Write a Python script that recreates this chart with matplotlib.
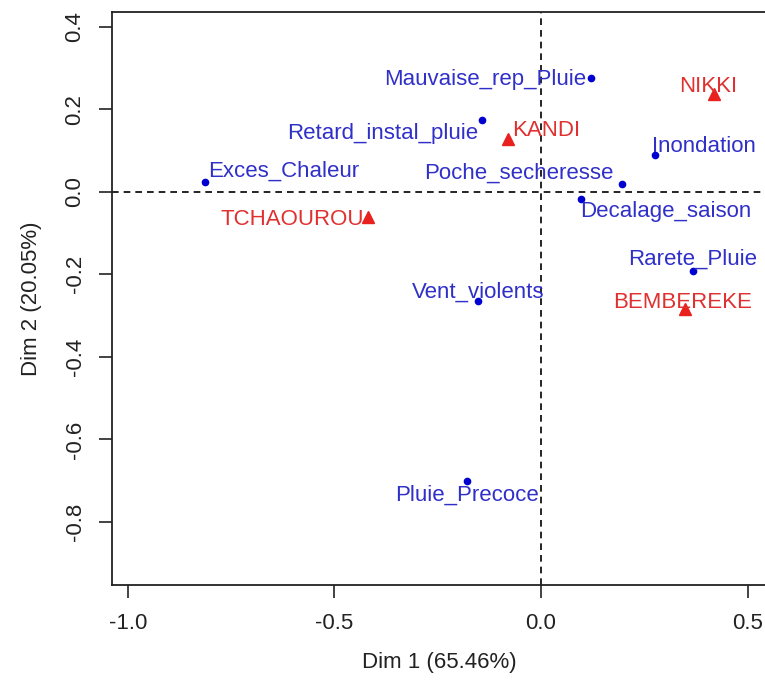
import matplotlib
matplotlib.use('Agg')
import matplotlib.pyplot as plt

# column points (blue) and row points (red)
col_names = ['Mauvaise_rep_Pluie', 'Retard_instal_pluie', 'Inondation', 'Exces_Chaleur',
             'Poche_secheresse', 'Decalage_saison', 'Rarete_Pluie', 'Vent_violents',
             'Pluie_Precoce']
col_x = [0.121, -0.142, 0.275, -0.813, 0.195, 0.096, 0.369, -0.153, -0.178]
col_y = [0.275, 0.173, 0.089, 0.023, 0.019, -0.017, -0.193, -0.264, -0.702]

row_names = ['NIKKI', 'KANDI', 'TCHAOUROU', 'BEMBEREKE']
row_x = [0.419, -0.079, -0.418, 0.348]
row_y = [0.238, 0.129, -0.060, -0.284]

x_ticks = [-1.0, -0.5, 0.0, 0.5]
y_ticks = [-0.8, -0.6, -0.4, -0.2, 0.0, 0.2, 0.4]

# label placement: (dx px, dy px, ha)
col_lab = {
    'Mauvaise_rep_Pluie': (-5, -1, 'right'),
    'Retard_instal_pluie': (-4, -13, 'right'),
    'Inondation': (-3, 9, 'left'),
    'Exces_Chaleur': (3, 11, 'left'),
    'Poche_secheresse': (-8, 11, 'right'),
    'Decalage_saison': (0, -13, 'left'),
    'Rarete_Pluie': (-1, 12, 'center'),
    'Vent_violents': (0, 9, 'center'),
    'Pluie_Precoce': (0, -14, 'center'),
}
row_lab = {
    'NIKKI': (-6, 7, 'center'),
    'KANDI': (4, 8, 'left'),
    'TCHAOUROU': (-4, -3, 'right'),
    'BEMBEREKE': (-2, 7, 'center'),
}

plt.rcParams['font.family'] = ['Liberation Sans', 'DejaVu Sans']

fig = plt.figure(figsize=(7.65, 6.93), dpi=100)
ax = fig.add_axes([112 / 765, 108 / 693, (767 - 112) / 765, (585 - 12) / 693])

ax.axhline(0, color='black', lw=1.2, ls=(0, (4, 3)), zorder=1)
ax.axvline(0, color='black', lw=1.2, ls=(0, (4, 3)), zorder=1)

ax.plot(col_x, col_y, 'o', color='#0000d0', ms=4.5, zorder=3)
ax.plot(row_x, row_y, '^', color='#e8201e', ms=8, zorder=3)

blue_txt = '#3030c8'
red_txt = '#e03030'
fs = 16
for name, x, y in zip(col_names, col_x, col_y):
    dx, dy, ha = col_lab[name]
    ax.annotate(name, (x, y), xytext=(dx * 0.72, dy * 0.72), textcoords='offset points',
                ha=ha, va='center', color=blue_txt, fontsize=fs, zorder=4)
for name, x, y in zip(row_names, row_x, row_y):
    dx, dy, ha = row_lab[name]
    ax.annotate(name, (x, y), xytext=(dx * 0.72, dy * 0.72), textcoords='offset points',
                ha=ha, va='center', color=red_txt, fontsize=fs, zorder=4)

ax.set_xlim(-1.038, 0.547)
ax.set_ylim(-0.953, 0.436)
ax.set_xticks(x_ticks)
ax.set_xticklabels(['%.1f' % v for v in x_ticks])
ax.set_yticks(y_ticks)
ax.set_yticklabels(['%.1f' % v for v in y_ticks], rotation=90, va='center')
ax.tick_params(direction='out', length=9.4, width=1.2, labelsize=fs, colors='#222222')
ax.tick_params(axis='x', pad=10.5)
ax.tick_params(axis='y', pad=9.6)
for sp in ax.spines.values():
    sp.set_linewidth(1.3)
    sp.set_color('#222222')

ax.set_xlabel('Dim 1 (65.46%)', fontsize=fs, labelpad=13.5, color='#222222')
ax.set_ylabel('Dim 2 (20.05%)', fontsize=fs, labelpad=16, color='#222222')

fig.savefig('out.png', dpi=100)
